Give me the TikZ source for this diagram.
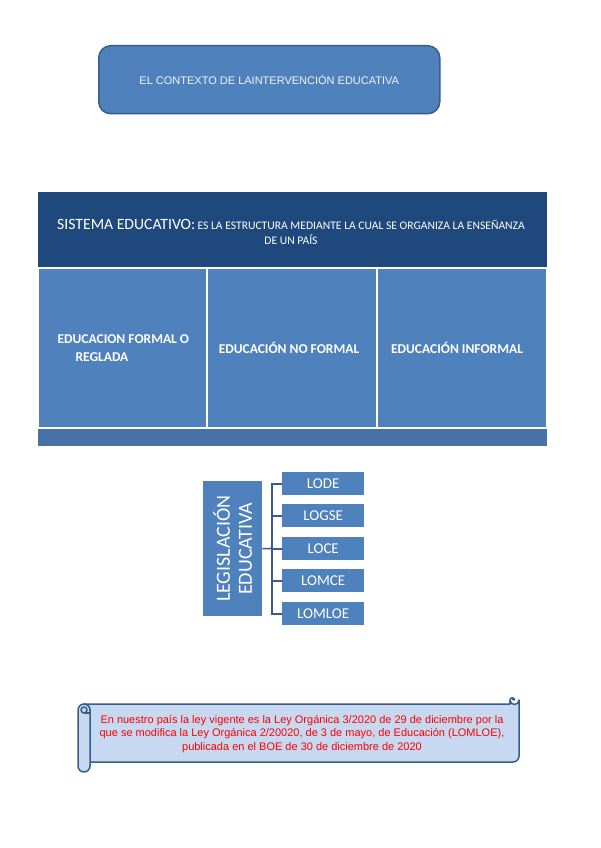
\documentclass[tikz,border=0pt]{standalone}
\usepackage{fontspec}
\setmainfont{Liberation Sans}
\newfontfamily\calfont{Carlito}
\definecolor{mblue}{HTML}{4F81BD}
\definecolor{dblue}{HTML}{1F497D}
\definecolor{eblue}{HTML}{385D8A}
\definecolor{bbar}{HTML}{4672A8}
\definecolor{lblue}{HTML}{C6D9F1}
\definecolor{tred}{HTML}{FF0000}
\begin{document}
\begin{tikzpicture}[x=1pt,y=-1pt,
  cell/.style={fill=mblue,draw=white,line width=1pt,anchor=north west,inner sep=0pt,text=white},
  celltext/.style={text=white,font=\calfont\bfseries\fontsize{13.5}{18}\selectfont},
  lawbox/.style={fill=mblue,anchor=north west,minimum width=82pt,minimum height=23pt,inner sep=0pt,text=white,font=\calfont\fontsize{15}{17}\selectfont},
  brk/.style={draw=eblue,line width=1.6pt},
  scrollline/.style={draw=eblue,line width=1.5pt,line join=round}]
\useasboundingbox (0,0) rectangle (600,848);
\fill[white] (0,0) rectangle (600,848);
% title
\node[fill=mblue,draw=eblue,line width=1.5pt,rounded corners=12pt,anchor=north west,minimum width=341pt,minimum height=68pt,inner sep=0pt,text=white!92!mblue,font=\fontsize{11}{13}\selectfont] (title) at (98,45) {EL CONTEXTO DE LAINTERVENCIÓN EDUCATIVA};
% sistema educativo
\node[fill=dblue,anchor=north west,minimum width=509pt,minimum height=75pt,inner sep=0pt] (head) at (38,192) {};
\node[text=white,font=\calfont,inner sep=0pt] (headtxt) at (291,224.5) {{\fontsize{15.7}{16}\selectfont SISTEMA EDUCATIVO:} {\fontsize{11.6}{14}\selectfont ES LA ESTRUCTURA MEDIANTE LA CUAL SE ORGANIZA LA ENSEÑANZA}};
\node[text=white,font=\calfont\fontsize{11.6}{14}\selectfont,inner sep=0pt] (headtxt2) at (291,239.5) {DE UN PAÍS};
\node[cell,minimum width=168pt,minimum height=159pt] (c1) at (38,268) {};
\node[cell,minimum width=169pt,minimum height=159pt] (c2) at (207,268) {};
\node[cell,minimum width=169pt,minimum height=159pt] (c3) at (377,268) {};
\node[celltext,anchor=west] (t1a) at (54,339) {EDUCACION FORMAL O};
\node[celltext,anchor=west] (t1b) at (72,357) {REGLADA};
\node[celltext] (t2) at (289,348) {EDUCACIÓN NO FORMAL};
\node[celltext] (t3) at (457,348) {EDUCACIÓN INFORMAL};
\node[fill=bbar,anchor=north west,minimum width=509pt,minimum height=17pt,inner sep=0pt] (bar) at (38,429) {};
% legislacion
\node[fill=mblue,anchor=north west,minimum width=59pt,minimum height=135pt,inner sep=0pt] (leg) at (203,481) {};
\node[rotate=90,text=white,align=center,font=\calfont\fontsize{20}{22}\selectfont] (legtxt) at (leg.center) {LEGISLACIÓN\\EDUCATIVA};
\node[lawbox] (l1) at (282,472) {LODE};
\node[lawbox] (l2) at (282,504) {LOGSE};
\node[lawbox] (l3) at (282,537) {LOCE};
\node[lawbox] (l4) at (282,569) {LOMCE};
\node[lawbox] (l5) at (282,602) {LOMLOE};
\coordinate (spine) at (272,548.5);
\draw[brk] (leg.east) -- (spine);
\draw[brk] (l1.west) -- (l1.west -| spine) -- (l5.west -| spine) -- (l5.west);
\foreach \b in {l2,l3,l4} \draw[brk] (\b.west) -- (\b.west -| spine);
% scroll
\draw[scrollline,fill=lblue]
  (84,704) -- (510,704) -- (510,700) arc[start angle=180,end angle=0,radius=4.5] -- (519,756) arc[start angle=0,end angle=90,radius=6] -- (90,762) -- (90,710) -- cycle;
\draw[scrollline] (510,704) -- (510,700) arc[start angle=180,end angle=360,radius=2.25] arc[start angle=0,end angle=-180,radius=1.1];
\draw[scrollline,fill=lblue,rounded corners=6pt] (78,704) rectangle (90,772);
\draw[scrollline,fill=lblue] (84,710) circle[radius=3];
\draw[scrollline] (84,713) -- (90,713);
\node[text=tred,align=center,font=\fontsize{11}{13.8}\selectfont] (scrolltxt) at (302,734) {En nuestro país la ley vigente es la Ley Orgánica 3/2020 de 29 de diciembre por la\\que se modifica la Ley Orgánica 2/20020, de 3 de mayo, de Educación (LOMLOE),\\publicada en el BOE de 30 de diciembre de 2020};
\end{tikzpicture}
\end{document}
